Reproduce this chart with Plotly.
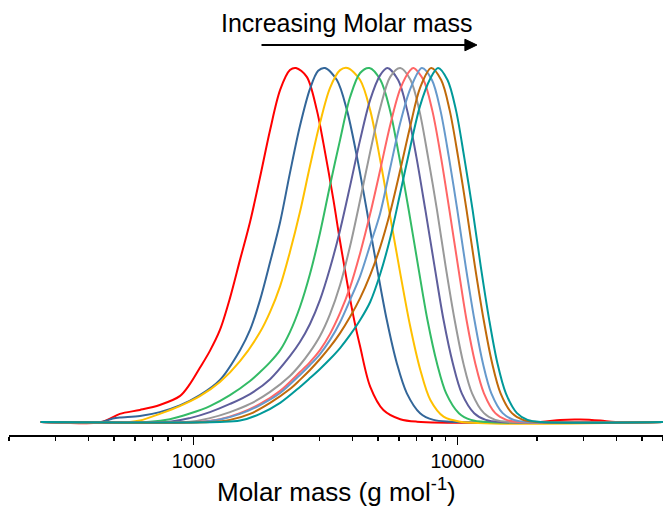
import plotly.graph_objects as go
import math

# ---- data: log10(molar mass) and normalised intensity ----
red_logM = [2.421, 2.656, 2.721, 2.797, 2.872, 2.948, 2.986, 3.024, 3.062, 3.100, 3.138, 3.176, 3.214, 3.252,
            3.290, 3.328, 3.365, 3.388, 3.429, 3.467, 3.492, 3.530, 3.555, 3.606, 3.631, 3.669, 3.719, 3.783,
            3.846, 4.313, 4.389, 4.465, 4.541, 4.598, 4.778]
red_I = [0, 0.001, 0.023, 0.034, 0.048, 0.073, 0.107, 0.153, 0.201, 0.260, 0.350, 0.458, 0.565, 0.692,
         0.825, 0.938, 0.994, 1.000, 0.975, 0.881, 0.787, 0.627, 0.510, 0.297, 0.213, 0.100, 0.034, 0.008,
         0.001, 0, 0.006, 0.007, 0.004, 0, 0]

blue_logM = [2.421, 2.656, 2.694, 2.721, 2.797, 2.872, 2.948, 3.024, 3.100, 3.176, 3.214, 3.252, 3.290, 3.328,
             3.365, 3.403, 3.441, 3.472, 3.498, 3.543, 3.581, 3.619, 3.656, 3.694, 3.732, 3.770, 3.808, 3.858,
             3.909, 3.972, 4.778]
blue_I = [0, 0.001, 0.010, 0.013, 0.017, 0.028, 0.047, 0.076, 0.119, 0.203, 0.260, 0.345, 0.452, 0.565,
          0.703, 0.836, 0.941, 0.992, 1.000, 0.966, 0.881, 0.749, 0.599, 0.439, 0.288, 0.166, 0.081, 0.025,
          0.006, 0.001, 0]

yellow_logM = [2.421, 2.759, 2.797, 2.872, 2.948, 3.024, 3.100, 3.176, 3.252, 3.290, 3.328, 3.365, 3.403, 3.441,
               3.479, 3.517, 3.555, 3.583, 3.631, 3.669, 3.707, 3.745, 3.783, 3.821, 3.859, 3.897, 3.947, 4.010,
               4.778]
yellow_I = [0, 0, 0.004, 0.023, 0.045, 0.073, 0.113, 0.172, 0.254, 0.311, 0.384, 0.480, 0.593, 0.723,
            0.845, 0.944, 0.994, 1.000, 0.966, 0.881, 0.740, 0.580, 0.420, 0.269, 0.147, 0.062, 0.015, 0.001,
            0]

green_logM = [2.421, 2.835, 2.910, 2.986, 3.062, 3.138, 3.214, 3.252, 3.290, 3.328, 3.365, 3.403, 3.441, 3.479,
              3.517, 3.555, 3.593, 3.631, 3.666, 3.708, 3.744, 3.779, 3.815, 3.851, 3.886, 3.922, 3.957, 4.005,
              4.051, 4.112, 4.778]
green_I = [0, 0.001, 0.008, 0.024, 0.045, 0.076, 0.116, 0.141, 0.169, 0.203, 0.254, 0.325, 0.418, 0.534,
           0.669, 0.797, 0.918, 0.986, 1.000, 0.966, 0.881, 0.749, 0.599, 0.439, 0.288, 0.166, 0.081, 0.025,
           0.006, 0, 0]

purple_logM = [2.421, 2.910, 2.986, 3.062, 3.138, 3.214, 3.290, 3.365, 3.403, 3.441, 3.479, 3.517, 3.555, 3.593,
               3.631, 3.669, 3.707, 3.734, 3.775, 3.809, 3.844, 3.878, 3.913, 3.947, 3.982, 4.016, 4.063, 4.107,
               4.166, 4.778]
purple_I = [0, 0.001, 0.011, 0.028, 0.051, 0.079, 0.121, 0.186, 0.226, 0.277, 0.345, 0.435, 0.542, 0.667,
            0.797, 0.910, 0.980, 1.000, 0.966, 0.881, 0.749, 0.599, 0.439, 0.288, 0.166, 0.081, 0.025, 0.006,
            0, 0]

gray_logM = [2.421, 2.986, 3.062, 3.138, 3.214, 3.290, 3.365, 3.403, 3.441, 3.479, 3.517, 3.555, 3.593, 3.631,
             3.669, 3.707, 3.745, 3.783, 3.822, 3.855, 3.888, 3.922, 3.955, 3.989, 4.022, 4.055, 4.100, 4.143,
             4.200, 4.778]
gray_I = [0, 0.001, 0.011, 0.028, 0.051, 0.085, 0.130, 0.161, 0.198, 0.243, 0.305, 0.387, 0.497, 0.627,
          0.763, 0.887, 0.975, 1.000, 0.966, 0.881, 0.749, 0.599, 0.439, 0.288, 0.166, 0.081, 0.025, 0.006,
          0, 0]

pink_logM = [2.421, 3.024, 3.100, 3.176, 3.252, 3.328, 3.403, 3.441, 3.479, 3.517, 3.555, 3.593, 3.631, 3.669,
             3.707, 3.745, 3.783, 3.821, 3.833, 3.871, 3.904, 3.937, 3.969, 4.002, 4.034, 4.067, 4.100, 4.143,
             4.185, 4.241, 4.778]
pink_I = [0, 0.001, 0.008, 0.025, 0.051, 0.088, 0.141, 0.169, 0.203, 0.249, 0.308, 0.381, 0.477, 0.588,
          0.712, 0.839, 0.941, 0.994, 1.000, 0.966, 0.881, 0.749, 0.599, 0.439, 0.288, 0.166, 0.081, 0.025,
          0.006, 0, 0]

lightblue_logM = [2.421, 3.024, 3.100, 3.176, 3.252, 3.328, 3.403, 3.441, 3.479, 3.517, 3.555, 3.593, 3.631,
                  3.669, 3.707, 3.745, 3.783, 3.821, 3.865, 3.903, 3.935, 3.967, 3.999, 4.031, 4.064, 4.096,
                  4.128, 4.171, 4.213, 4.268, 4.778]
lightblue_I = [0, 0, 0.007, 0.023, 0.048, 0.082, 0.133, 0.161, 0.192, 0.232, 0.282, 0.345, 0.412,
               0.500, 0.590, 0.718, 0.845, 0.941, 1.000, 0.966, 0.881, 0.749, 0.599, 0.439, 0.288, 0.166,
               0.081, 0.025, 0.006, 0, 0]

orange_logM = [2.421, 3.062, 3.138, 3.214, 3.290, 3.365, 3.403, 3.441, 3.479, 3.517, 3.555, 3.593, 3.631, 3.669,
               3.707, 3.745, 3.783, 3.821, 3.858, 3.900, 3.938, 3.970, 4.002, 4.034, 4.066, 4.099, 4.131, 4.163,
               4.206, 4.248, 4.303, 4.778]
orange_I = [0, 0, 0.006, 0.023, 0.054, 0.093, 0.119, 0.147, 0.178, 0.212, 0.251, 0.297, 0.350, 0.415,
            0.494, 0.593, 0.712, 0.836, 0.944, 1.000, 0.966, 0.881, 0.749, 0.599, 0.439, 0.288, 0.166, 0.081,
            0.025, 0.006, 0, 0]

teal_logM = [2.421, 3.100, 3.176, 3.252, 3.328, 3.403, 3.441, 3.479, 3.517, 3.555, 3.593, 3.631, 3.669, 3.707,
             3.745, 3.783, 3.821, 3.858, 3.896, 3.926, 3.962, 3.994, 4.025, 4.057, 4.088, 4.120, 4.151, 4.183,
             4.225, 4.265, 4.319, 4.778]
teal_I = [0, 0, 0.004, 0.023, 0.054, 0.099, 0.124, 0.150, 0.178, 0.209, 0.246, 0.288, 0.339, 0.418,
          0.520, 0.647, 0.777, 0.893, 0.969, 1.000, 0.966, 0.881, 0.749, 0.599, 0.439, 0.288, 0.166, 0.081,
          0.025, 0.006, 0, 0]

series_names = ["red", "blue", "yellow", "green", "purple", "gray", "pink", "lightblue", "orange", "teal"]
series_logM = [red_logM, blue_logM, yellow_logM, green_logM, purple_logM, gray_logM, pink_logM,
               lightblue_logM, orange_logM, teal_logM]
series_I = [red_I, blue_I, yellow_I, green_I, purple_I, gray_I, pink_I, lightblue_I, orange_I, teal_I]
colors = ["#FF0000", "#336699", "#FFC000", "#33BB66", "#5E5E9C", "#999999", "#FF6666", "#6699CC",
          "#C06A0A", "#009999"]

major_ticks = [1000, 10000]
major_labels = ["1000", "10000"]
minor_ticks = [200, 300, 400, 500, 600, 700, 800, 900, 2000, 3000, 4000, 5000, 6000, 7000, 8000, 9000,
               20000, 30000, 40000, 50000, 60000]

fig = go.Figure()
for name, lm, inten, col in zip(series_names, series_logM, series_I, colors):
    fig.add_trace(go.Scatter(
        x=[10 ** v for v in lm], y=inten, mode="lines", name=name,
        line=dict(color=col, width=2, shape="spline", smoothing=0.9),
        hoverinfo="skip"))

fig.update_layout(
    width=663, height=506,
    margin=dict(l=9, r=0, t=60, b=71),
    plot_bgcolor="white", paper_bgcolor="white",
    showlegend=False,
    font=dict(family="Liberation Sans, Arial, sans-serif", color="black"),
    xaxis=dict(
        type="log", range=[math.log10(200), math.log10(60000)],
        showline=True, linecolor="black", linewidth=2,
        ticks="outside", ticklen=8, tickwidth=1.5, tickcolor="black",
        tickmode="array", tickvals=major_ticks, ticktext=major_labels,
        tickfont=dict(size=19.5, color="black"),
        showgrid=False, zeroline=False,
        minor=dict(tickmode="array", tickvals=minor_ticks, ticks="outside", ticklen=4,
                   tickwidth=1.5, tickcolor="black", showgrid=False),
    ),
    yaxis=dict(visible=False, range=[-0.0367, 1.0226]),
    annotations=[
        dict(text="Molar mass (g mol<sup>-1</sup>)", x=0.5, y=-0.147, xref="paper", yref="paper",
             showarrow=False, font=dict(size=26), xanchor="center", yanchor="middle"),
        dict(text="Increasing Molar mass", x=0.5166, y=1.0987, xref="paper", yref="paper",
             showarrow=False, font=dict(size=25), xanchor="center", yanchor="middle"),
    ],
    shapes=[
        dict(type="line", xref="paper", yref="paper", x0=0.3861, x1=0.700, y0=1.04, y1=1.04,
             line=dict(color="black", width=2)),
        dict(type="path", xref="paper", yref="paper",
             path="M 0.6971,1.0555 L 0.7155,1.04 L 0.6971,1.0245 Z",
             fillcolor="black", line=dict(color="black", width=1)),
    ],
)

fig.write_html("out.html", config={"displayModeBar": False, "staticPlot": True},
               post_script="document.body.style.margin='0';document.body.style.overflow='hidden';")
